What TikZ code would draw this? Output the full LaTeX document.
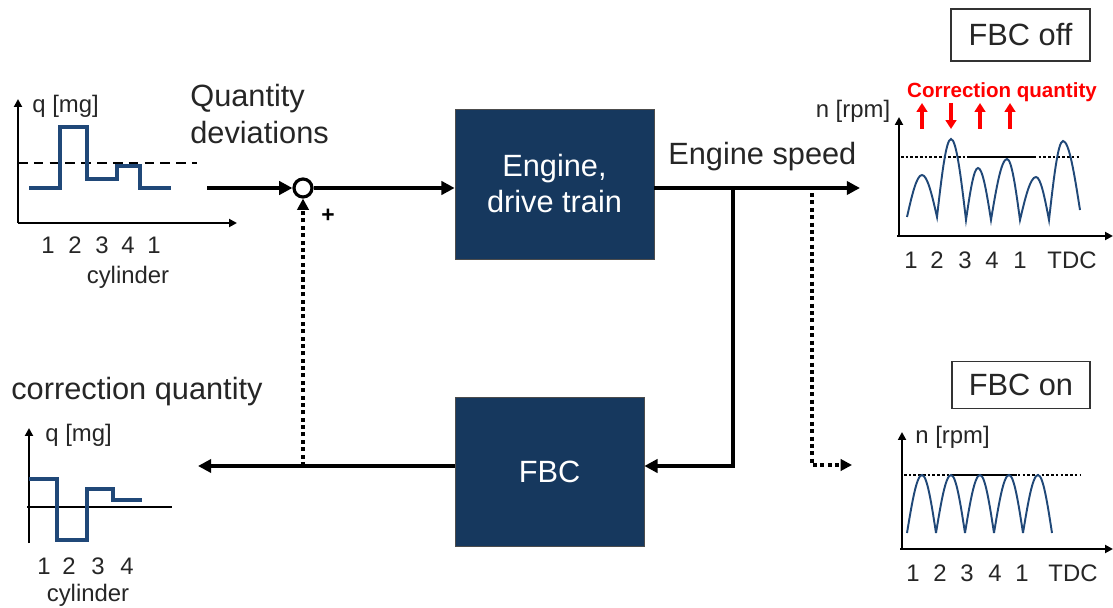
\documentclass[tikz,border=0pt]{standalone}
\usepackage{fontspec}
\setmainfont{Liberation Sans}
\usepackage{tikz}
\usetikzlibrary{arrows.meta}
\definecolor{boxblue}{RGB}{22,56,94}
\definecolor{curveblue}{RGB}{32,72,120}
\definecolor{textgrey}{RGB}{38,38,38}
\begin{document}
\begin{tikzpicture}[x=0.02cm, y=-0.02cm,
  bigtext/.style={font=\fontsize{17.5}{21}\selectfont, text=textgrey, inner sep=0pt},
  smalltext/.style={font=\fontsize{13.6}{16}\selectfont, text=textgrey, inner sep=0pt},
  blockbox/.style={draw=black!70, fill=boxblue, text=white, align=center,
    font=\fontsize{17.5}{20.5}\selectfont},
  tagbox/.style={draw=black!80, line width=0.8pt, font=\fontsize{17.5}{21}\selectfont, text=textgrey},
  flowline/.style={line width=2pt, -{Triangle[length=7.5pt,width=7.5pt]}},
  dotline/.style={line width=2.3pt, dash pattern=on 2.3pt off 1.9pt},
  axisline/.style={line width=1.1pt, -{Triangle[length=4.5pt,width=4.5pt]}},
  stepline/.style={line width=1.9pt, color=curveblue},
  humpline/.style={line width=1.1pt, color=curveblue},
  redarrow/.style={line width=1.8pt, red, -{Triangle[length=5pt,width=6pt]}}]
  \useasboundingbox (0,0) rectangle (1113,608);

  % Blocks
  \node[blockbox, minimum width=3.98cm, minimum height=3cm] (engine) at (554.5,184) {Engine,\\drive train};
  \node[blockbox, minimum width=3.78cm, minimum height=2.98cm] (fbc) at (549.5,471.5) {FBC};
  \node[draw, circle, line width=1.8pt, fill=white, minimum size=0.36cm, inner sep=0pt] (sum) at (303,188) {};

  % Coordinates for the loose ends
  \coordinate (qin) at (207,188);
  \coordinate (speed) at (860,188);
  \coordinate (branch) at (733,188);
  \coordinate (branchlow) at (733,466);
  \coordinate (qout) at (198,466);
  \coordinate (tap) at (812,193);
  \coordinate (taplow) at (812,465);
  \coordinate (tapend) at (852,465);

  % Main section
  \draw[flowline] (qin) -- (sum.west);
  \draw[flowline] (sum.east) -- (sum -| engine.west);
  \draw[flowline] (engine.east |- speed) -- (speed);
  \draw[flowline] (branch) -- (branchlow) -- (branchlow -| fbc.east);
  \draw[flowline] (fbc.west |- qout) -- (qout);
  \draw[dotline, -{Triangle[length=6.5pt,width=6.5pt]}] (sum |- qout) -- (sum.south);
  \draw[dotline, -{Triangle[length=6.5pt,width=6.5pt]}] (tap) -- (taplow) -- (tapend);
  \node[font=\bfseries\fontsize{13}{15}\selectfont] (plus) at (328,216) {+};

  % Labels
  \node[bigtext, anchor=west, align=left] (devtext) at (190,114) {Quantity\\deviations};
  \node[bigtext, anchor=west] (speedtext) at (668,157) {Engine speed};
  \node[bigtext, anchor=west] (corrtext) at (11,392) {correction quantity};

  % Quantity deviations plot
  \draw[axisline] (18,223) -- (18,99);
  \draw[axisline] (18,223) -- (237,223);
  \draw[line width=1.3pt, dash pattern=on 5.5pt off 3.5pt] (18,163) -- (197,163);
  \draw[stepline] (29,188) -| (60,127) -| (87,179) -| (117,166) -| (140,188) -- (171,188);
  \node[smalltext, anchor=west] (qtop) at (32,106) {q [mg]};
  \foreach \x/\c in {48/1, 75/2, 102/3, 128/4, 154/1} {
    \node[smalltext] at (\x,245) {\c};
  }
  \node[smalltext] (cyltop) at (128,277) {cylinder};

  % Correction quantity plot
  \draw[axisline] (29,543) -- (29,428);
  \draw[line width=1.1pt] (27,507) -- (172,507);
  \draw[stepline] (29,479) -| (57,540) -| (87,489) -| (113,500) -- (142,500);
  \node[smalltext, anchor=west] (qbot) at (45,435) {q [mg]};
  \foreach \x/\c in {44/1, 69/2, 98/3, 127/4} {
    \node[smalltext] at (\x,566) {\c};
  }
  \node[smalltext] (cylbot) at (88,595) {cylinder};

  % FBC off
  \node[tagbox, minimum width=2.78cm, minimum height=1.04cm] (fbcoff) at (1020.5,35) {FBC off};
  \draw[axisline] (899,236) -- (899,117);
  \draw[axisline] (897,236) -- (1113,236);
  \draw[line width=1.5pt, dash pattern=on 1.5pt off 1.2pt] (901,157) -- (1079,157);
  \draw[line width=1.5pt] (970,157) -- (1035,157);
  \draw[humpline] (907,217) sin (922,175) cos (937,217) sin (951,139) cos (966,220)
    sin (978,168) cos (991,220) sin (1007,159) cos (1020,220) sin (1036,177) cos (1049,220)
    sin (1063,141) cos (1080,210);
  \foreach \x in {922, 980, 1010} {
    \draw[redarrow] (\x,129) -- (\x,103);
  }
  \draw[redarrow] (951,103) -- (951,129);
  \node[font=\bfseries\fontsize{11.7}{14}\selectfont, text=red, inner sep=0pt] (corrred) at (1002,92) {Correction quantity};
  \node[smalltext] (rpmtop) at (853,111) {n [rpm]};
  \foreach \x/\c in {911/1, 937/2, 965/3, 992/4, 1020/1, 1072/TDC} {
    \node[smalltext] at (\x,260) {\c};
  }

  % FBC on
  \node[tagbox, minimum width=2.76cm, minimum height=0.94cm] (fbcon) at (1021,385) {FBC on};
  \draw[axisline] (902,549) -- (902,432);
  \draw[axisline] (900,549) -- (1113,549);
  \draw[line width=1.5pt, dash pattern=on 1.5pt off 1.2pt] (904,475) -- (1080,475);
  \draw[line width=1.5pt] (953,475) -- (1017,475);
  \foreach \i in {0,...,4} {
    \draw[humpline] (907+29*\i,533) sin (922+29*\i,475) cos (936+29*\i,533);
  }
  \node[smalltext, anchor=west] (rpmbot) at (915,437) {n [rpm]};
  \foreach \x/\c in {913/1, 940/2, 967/3, 995/4, 1022/1, 1073/TDC} {
    \node[smalltext] at (\x,573) {\c};
  }
\end{tikzpicture}
\end{document}
